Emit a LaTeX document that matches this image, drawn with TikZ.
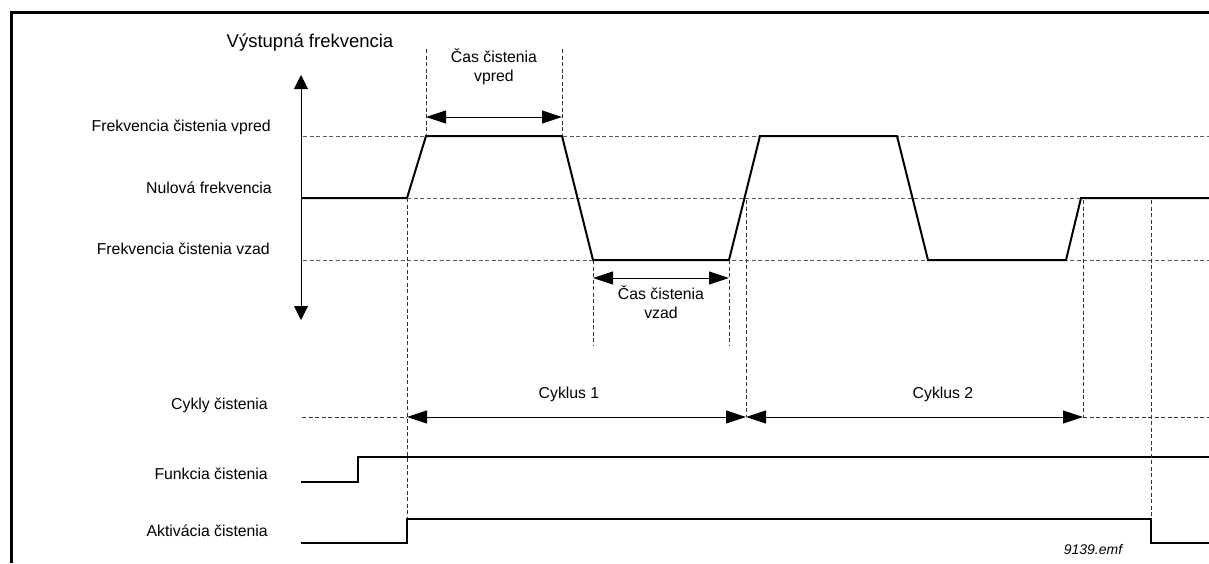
\documentclass[tikz,border=0pt]{standalone}
\usepackage{fontspec}
\setmainfont{Liberation Sans}
\usetikzlibrary{arrows.meta,positioning}
\definecolor{CleanGrid}{HTML}{5A5A5A}
\definecolor{CleanGuide}{HTML}{333333}
\tikzset{
  wave/.style={line width=2pt, draw=black, line join=miter},
  grid/.style={line width=1pt, draw=CleanGrid, dash pattern=on 4pt off 2.5pt},
  guide/.style={line width=1pt, draw=CleanGuide, dash pattern=on 4pt off 2.5pt},
  span/.style={{Triangle[length=20pt,width=13pt]}-{Triangle[length=20pt,width=13pt]}, line width=1pt},
  axis/.style={{Triangle[length=14pt,width=14pt]}-{Triangle[length=14pt,width=14pt]}, line width=1pt},
  lbl/.style={font=\fontsize{15.8}{19}\selectfont, inner sep=0pt},
  rowlbl/.style={lbl, anchor=east},
}

\begin{document}
\begin{tikzpicture}[x=1pt,y=-1pt]
    \useasboundingbox (0,0) rectangle (1209,563);
    % frame
    \coordinate (fl) at (11,563);
    \coordinate (fc) at (11,12);
    \coordinate (fr) at (1209,12);
    \draw[line width=3pt] (fl) -- (fc) -- (fr);

    % axis and row labels
    \coordinate (ax1) at (301,75);
    \coordinate (ax2) at (301,320);
    \draw[axis] (ax1) -- (ax2);
    \node[lbl,font=\fontsize{18.5}{21}\selectfont] (title) at (310,43) {Výstupná frekvencia};
    \node[rowlbl] (lvpred) at (271,127) {Frekvencia čistenia vpred};
    \node[rowlbl] (lnull) at (272,188) {Nulová frekvencia};
    \node[rowlbl] (lvzad) at (270,249) {Frekvencia čistenia vzad};
    \node[rowlbl] (lcyc) at (268,405) {Cykly čistenia};
    \node[rowlbl] (lfun) at (268,474) {Funkcia čistenia};
    \node[rowlbl] (lact) at (268,531) {Aktivácia čistenia};

    % level grid
    \coordinate (gp1) at (303,136);  \coordinate (gp2) at (1209,136);
    \coordinate (gz1) at (407,198);  \coordinate (gz2) at (1081,198);
    \coordinate (gv1) at (303,260);  \coordinate (gv2) at (1209,260);
    \draw[grid] (gp1) -- (gp2);
    \draw[grid] (gz1) -- (gz2);
    \draw[grid] (gv1) -- (gv2);

    % output frequency
    \coordinate (w0) at (301,198);
    \coordinate (w1) at (407,198);
    \coordinate (w2) at (426,136);
    \coordinate (w3) at (562,136);
    \coordinate (w4) at (593,260);
    \coordinate (w5) at (729,260);
    \coordinate (w6) at (760,136);
    \coordinate (w7) at (897,136);
    \coordinate (w8) at (928,260);
    \coordinate (w9) at (1066,260);
    \coordinate (w10) at (1081,198);
    \coordinate (w11) at (1209,198);
    \draw[wave] (w0) -- (w1) -- (w2) -- (w3) -- (w4) -- (w5) -- (w6) -- (w7)
      -- (w8) -- (w9) -- (w10) -- (w11);

    % forward / reverse time
    \coordinate (tp1) at (426,49);  \coordinate (tp2) at (562,49);
    \coordinate (tv1) at (593,345); \coordinate (tv2) at (729,345);
    \draw[guide] (tp1) -- (w2);
    \draw[guide] (tp2) -- (w3);
    \draw[guide] (w4) -- (tv1);
    \draw[guide] (w5) -- (tv2);
    \coordinate (ap1) at (426,117); \coordinate (ap2) at (562,117);
    \coordinate (av1) at (593,278); \coordinate (av2) at (729,278);
    \draw[span] (ap1) -- (ap2);
    \draw[span] (av1) -- (av2);
    \node[lbl,align=center] (tvpred) at (494,67) {Čas čistenia\\vpred};
    \node[lbl,align=center] (tvzad) at (661,302) {Čas čistenia\\vzad};

    % cleaning cycles
    \coordinate (c0) at (302,417);
    \coordinate (c1) at (407,417);
    \coordinate (c2) at (746,417);
    \coordinate (c3) at (1083,417);
    \coordinate (c4) at (1209,417);
    \draw[guide] (c0) -- (c1);
    \draw[guide] (c3) -- (c4);
    \draw[span] (c1) -- (c2);
    \draw[span] (c2) -- (c3);
    \node[lbl] (cyk1) at (569,394) {Cyklus 1};
    \node[lbl] (cyk2) at (943,394) {Cyklus 2};
    \coordinate (z2) at (746,200);
    \coordinate (z3) at (1083,200);
    \draw[guide] (z2) -- (c2);
    \draw[guide] (z3) -- (c3);

    % function and activation signals
    \coordinate (s0) at (301,482);
    \coordinate (s1) at (358,482);
    \coordinate (s2) at (358,457);
    \coordinate (s3) at (1209,457);
    \draw[wave] (s0) -- (s1) -- (s2) -- (s3);
    \coordinate (a0) at (301,543);
    \coordinate (a1) at (407,543);
    \coordinate (a2) at (407,519);
    \coordinate (a3) at (1151,519);
    \coordinate (a4) at (1151,543);
    \coordinate (a5) at (1209,543);
    \draw[wave] (a0) -- (a1) -- (a2) -- (a3) -- (a4) -- (a5);
    \coordinate (z4) at (1151,200);
    \draw[guide] (w1) -- (a2);
    \draw[guide] (z4) -- (a3);

    \node[font=\fontsize{14}{16}\selectfont\itshape, inner sep=0pt] (ref) at (1093,549) {9139.emf};
\end{tikzpicture}
\end{document}
